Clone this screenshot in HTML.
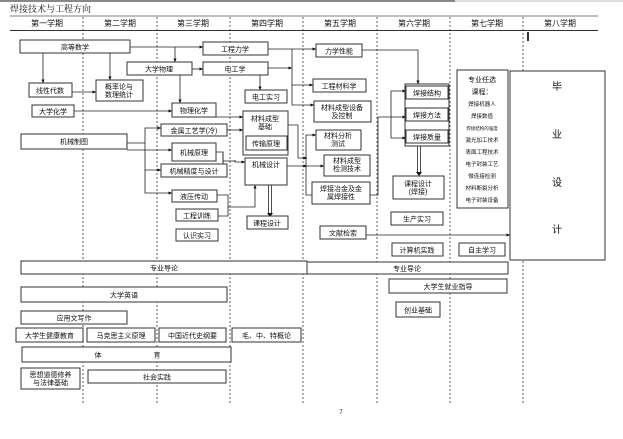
<!DOCTYPE html>
<html><head><meta charset="utf-8"><style>
body{margin:0;background:#fff;}
svg text{font-family:"Liberation Sans","Noto Sans CJK SC",sans-serif;fill:#111;}
.b{fill:#fff;stroke:#333;stroke-width:1;}
.l{stroke:#222;stroke-width:0.8;fill:none;}
.d{stroke:#333;stroke-width:0.8;stroke-dasharray:2,2;}
</style></head><body>
<svg width="623" height="434" viewBox="0 0 623 434" xmlns="http://www.w3.org/2000/svg">
<defs><marker id="a" markerWidth="5" markerHeight="5" refX="4.5" refY="2.5" orient="auto"><path d="M0,0.5 L5,2.5 L0,4.5z" fill="#111"/></marker></defs>
<rect x="0" y="0" width="455" height="2" fill="#888"/>
<line x1="455" y1="1" x2="623" y2="1" stroke="#aaa" stroke-width="0.8"/>
<text x="10" y="12" font-size="9" style="font-family:'Liberation Serif','Noto Serif CJK SC',serif">焊接技术与工程方向</text>
<line x1="10" y1="16" x2="598" y2="16" stroke="#555" stroke-width="0.8"/>
<line x1="10" y1="30.5" x2="598" y2="30.5" stroke="#333" stroke-width="1"/>
<g font-size="8" text-anchor="middle">
<text x="47" y="26">第一学期</text><text x="120" y="26">第二学期</text><text x="193" y="26">第三学期</text><text x="267" y="26">第四学期</text><text x="340" y="26">第五学期</text><text x="414" y="26">第六学期</text><text x="487" y="26">第七学期</text><text x="560" y="26">第八学期</text>
</g>
<g class="d"><line x1="83" y1="17" x2="83" y2="403"/><line x1="157" y1="17" x2="157" y2="403"/><line x1="230" y1="17" x2="230" y2="403"/><line x1="303" y1="17" x2="303" y2="403"/><line x1="377" y1="17" x2="377" y2="403"/><line x1="450" y1="17" x2="450" y2="403"/><line x1="523" y1="17" x2="523" y2="403"/></g>
<rect x="527" y="32" width="2" height="9" fill="#333"/>
<!-- connectors -->
<g class="l" marker-end="url(#a)">
<path d="M130,47 H203"/><path d="M175,47 V62"/><path d="M43,53 V83"/><path d="M110,53 V80"/>
<path d="M55,92 H96"/><path d="M192,69 H203"/><path d="M180,75 V103"/><path d="M260,75 V90"/>
<path d="M268,49 H316"/><path d="M292,49 V85 H313"/><path d="M292,85 V105 H314"/><path d="M268,68 H292"/>
<path d="M50,111 H172"/><path d="M216,117 H243"/>
<path d="M127,143 H145 V128 H161"/><path d="M127,150 H172"/><path d="M145,143 V170 H161"/><path d="M145,170 V193 H172"/>
<path d="M227,130 H243"/><path d="M216,152 H223 V171 H227 M235,160 V162 H245"/>
<path d="M217,195 H228 V216 H218 M228,207 H255 V185"/>
<path d="M288,125 H298 V158 H307"/><path d="M287,166 H307"/>
<path d="M306,158 V135 H316"/><path d="M306,166 H324"/>
<path d="M362,50 H418 V84"/><path d="M370,195 H378 V117 H406"/>
<path d="M391,114 V91 H406"/><path d="M391,114 V138 H406"/>
<path d="M366,235 H510"/>
</g>
<path class="l" d="M216,171 H223 V152"/><path class="l" d="M223,161 H235"/><path class="l" d="M306,158 V195 H312"/>
<path class="l" d="M268.5,185 V214 M271.5,185 V214" /><path d="M267,213 L273,213 L270,217z" fill="#111"/>
<path class="l" d="M417.5,146 V173 M420.5,146 V173"/><path d="M416,172 L422,172 L419,176z" fill="#111"/>
<!-- boxes -->
<g class="b">
<rect x="20" y="40" width="110" height="13"/><rect x="203" y="42" width="65" height="13"/><rect x="127" y="62" width="65" height="13"/><rect x="203" y="62" width="65" height="13"/>
<rect x="29" y="83" width="43" height="14"/><rect x="96" y="80" width="47" height="21"/><rect x="245" y="90" width="42" height="13"/>
<rect x="32" y="105" width="42" height="12"/><rect x="172" y="103" width="44" height="14"/>
<rect x="243" y="111" width="45" height="44"/><rect x="246" y="136" width="41" height="14"/>
<rect x="21" y="134" width="106" height="15"/><rect x="161" y="124" width="66" height="12"/><rect x="172" y="143" width="44" height="18"/><rect x="161" y="164" width="66" height="13"/>
<rect x="245" y="158" width="42" height="27"/><rect x="172" y="190" width="45" height="12"/><rect x="176" y="209" width="42" height="12"/><rect x="176" y="229" width="42" height="12"/><rect x="247" y="216" width="41" height="13"/>
<rect x="316" y="44" width="46" height="13"/><rect x="313" y="79" width="53" height="13"/><rect x="314" y="101" width="57" height="21"/>
<rect x="316" y="130" width="45" height="20"/><rect x="324" y="155" width="46" height="21"/><rect x="312" y="182" width="58" height="22"/>
<rect x="405" y="84" width="44" height="62"/><rect x="406" y="86" width="42" height="13"/><rect x="406" y="108" width="42" height="13"/><rect x="406" y="130" width="42" height="13"/>
<rect x="393" y="176" width="51" height="23"/><rect x="391" y="212" width="52" height="13"/><rect x="320" y="226" width="46" height="13"/><rect x="392" y="243" width="51" height="13"/>
<rect x="457" y="70" width="51" height="138"/><rect x="459" y="243" width="46" height="13"/><rect x="510" y="71" width="95" height="189"/>
<rect x="21" y="261" width="286" height="13"/><rect x="307" y="262" width="201" height="12"/><rect x="389" y="279" width="118" height="14"/>
<rect x="21" y="287" width="206" height="15"/><rect x="396" y="302" width="44" height="15"/><rect x="21" y="311" width="106" height="13"/>
<rect x="16" y="328" width="67" height="14"/><rect x="87" y="328" width="68" height="14"/><rect x="159" y="328" width="67" height="14"/><rect x="232" y="328" width="69" height="14"/>
<rect x="22" y="347" width="209" height="15"/><rect x="21" y="368" width="59" height="21"/><rect x="88" y="370" width="138" height="13"/>
</g>
<g font-size="7" text-anchor="middle">
<text x="75" y="49.5">高等数学</text><text x="235" y="51.5">工程力学</text><text x="159" y="71.5">大学物理</text><text x="235" y="71.5">电工学</text>
<text x="50" y="93">线性代数</text><text x="119" y="89">概率论与</text><text x="119" y="97">数理统计</text><text x="266" y="99.5">电工实习</text>
<text x="53" y="114">大学化学</text><text x="194" y="113">物理化学</text>
<text x="265" y="121">材料成型</text><text x="265" y="129">基础</text><text x="266" y="146">传输原理</text>
<text x="74" y="144">机械制图</text><text x="194" y="133">金属工艺学(冷)</text><text x="194" y="155">机械原理</text><text x="194" y="173.5">机械精度与设计</text>
<text x="266" y="167">机械设计</text><text x="194" y="199">液压传动</text><text x="197" y="218">工程训练</text><text x="197" y="238">认识实习</text><text x="267" y="225.5">课程设计</text>
<text x="339" y="53.5">力学性能</text><text x="339" y="88.5">工程材料学</text><text x="342" y="110">材料成型设备</text><text x="342" y="118">及控制</text>
<text x="338" y="138">材料分析</text><text x="338" y="146">测试</text><text x="347" y="163">材料成型</text><text x="347" y="171">检测技术</text><text x="341" y="191">焊接冶金及金</text><text x="341" y="199">属焊接性</text>
<text x="427" y="95.5">焊接结构</text><text x="427" y="117.5">焊接方法</text><text x="427" y="139.5">焊接质量</text>
<text x="418" y="186">课程设计</text><text x="418" y="194">(焊接)</text><text x="417" y="221.5">生产实习</text><text x="343" y="235.5">文献检索</text><text x="417" y="252.5">计算机实践</text>
<text x="482" y="82">专业任选</text><text x="482" y="94">课程：</text>
<g font-size="5.5"><text x="482" y="106">焊接机器人</text><text x="482" y="118">焊接数值</text><text x="482" y="130" font-size="4.5">焊接结构的强度</text><text x="482" y="142">激光加工技术</text><text x="482" y="154">表面工程技术</text><text x="482" y="166">电子封装工艺</text><text x="482" y="178">微连接检测</text><text x="482" y="190">材料断裂分析</text><text x="482" y="202">电子封装设备</text></g>
<text x="482" y="252.5">自主学习</text>
<g font-size="10"><text x="557" y="90">毕</text><text x="557" y="138">业</text><text x="557" y="186">设</text><text x="557" y="233">计</text></g>
<text x="164" y="270.5">专业导论</text><text x="407" y="271">专业导论</text><text x="448" y="289">大学生就业指导</text>
<text x="124" y="297.5">大学英语</text><text x="418" y="312.5">创业基础</text><text x="74" y="320.5">应用文写作</text>
<text x="49.5" y="338">大学生健康教育</text><text x="121" y="338">马克思主义原理</text><text x="192.5" y="338">中国近代史纲要</text><text x="266.5" y="338">毛、中、特概论</text>
<text x="98" y="357.5">体</text><text x="157" y="357.5">育</text><text x="50.5" y="377">思想道德修养</text><text x="50.5" y="385">与法律基础</text><text x="157" y="379.5">社会实践</text>
<text x="341" y="414" font-size="6">7</text>
</g>
</svg>
</body></html>
